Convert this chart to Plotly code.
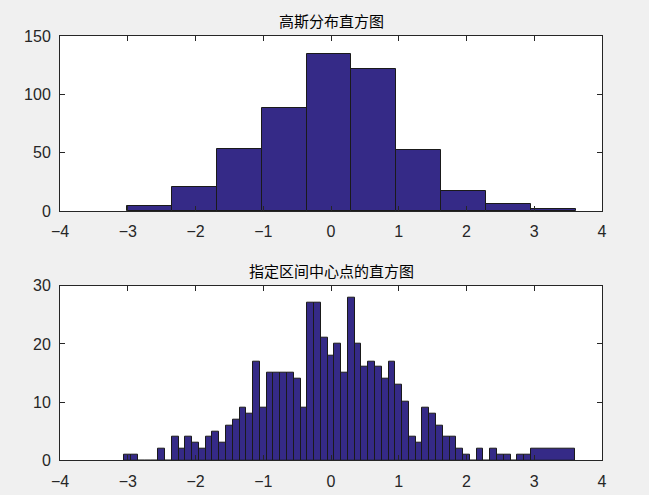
import numpy as np
import plotly.graph_objects as go

# top panel: 10 equal bins between data min and max
top_edges = [-3.01, -2.35, -1.69, -1.02, -0.36, 0.30, 0.96, 1.63, 2.29, 2.95, 3.61]
top_counts = [4, 21, 53, 88, 135, 122, 52, 17, 6, 2]

# bottom panel: bins centred on -3:0.1:3, last bar stretched to the data max
bot_centers = np.round(np.arange(-3.0, 3.05, 0.1), 1)
bot_last_edge = 3.6
bot_counts = [1, 1, 0, 0, 0, 2, 0, 4, 2, 4, 3, 2, 4, 5, 3, 6, 7, 9, 8, 17,
              9, 15, 15, 15, 15, 14, 9, 27, 27, 21, 18, 20, 15, 28, 20, 16, 17, 16, 14, 17,
              13, 10, 4, 3, 9, 8, 6, 4, 4, 2, 1, 0, 2, 0, 2, 1, 1, 0, 1, 1, 2]

x_ticks = [-4, -3, -2, -1, 0, 1, 2, 3, 4]

BAR_COLOR = "#352a87"
AX_COLOR = "#262626"
W, H = 649, 495

top_left = top_edges[:-1]
top_w = np.diff(top_edges)

bot_left = list(bot_centers - 0.05)
bot_w = [0.1] * (len(bot_centers) - 1) + [bot_last_edge - bot_left[-1]]

fig = go.Figure()
fig.add_trace(go.Bar(x=top_left, y=top_counts, width=top_w, offset=0,
                     marker=dict(color=BAR_COLOR, line=dict(color="#1a1a1a", width=1)),
                     xaxis="x", yaxis="y", showlegend=False))
fig.add_trace(go.Bar(x=bot_left, y=bot_counts, width=bot_w, offset=0,
                     marker=dict(color=BAR_COLOR, line=dict(color="#1a1a1a", width=1)),
                     xaxis="x2", yaxis="y2", showlegend=False))

x0, x1 = 60 / W, 602 / W
top_dom = [1 - 211 / H, 1 - 36 / H]
bot_dom = [1 - 460.3 / H, 1 - 285.7 / H]

axis_style = dict(showgrid=False, zeroline=False, showline=True, linecolor=AX_COLOR,
                  linewidth=1, mirror="ticks", ticks="inside", ticklen=5, automargin=False,
                  tickcolor=AX_COLOR, tickfont=dict(family="Liberation Sans", size=16, color=AX_COLOR))
xstyle = dict(axis_style, ticklabelstandoff=6)
ystyle = dict(axis_style, ticklabelstandoff=5)

title_font = dict(family="Noto Sans CJK SC", size=15, color="black")

fig.update_layout(
    width=W, height=H,
    margin=dict(l=0, r=0, t=0, b=0),
    paper_bgcolor="#f0f0f0", plot_bgcolor="white",
    bargap=0,
    xaxis=dict(domain=[x0, x1], range=[-4, 4], tickvals=x_ticks, anchor="y", **xstyle),
    yaxis=dict(domain=top_dom, range=[0, 150], dtick=50, anchor="x", **ystyle),
    xaxis2=dict(domain=[x0, x1], range=[-4, 4], tickvals=x_ticks, anchor="y2", **xstyle),
    yaxis2=dict(domain=bot_dom, range=[0, 30], dtick=10, anchor="x2", **ystyle),
    annotations=[
        dict(text="高斯分布直方图", x=(x0 + x1) / 2, y=top_dom[1], xref="paper", yref="paper",
             xanchor="center", yanchor="bottom", yshift=3, showarrow=False, font=title_font),
        dict(text="指定区间中心点的直方图", x=(x0 + x1) / 2, y=bot_dom[1], xref="paper", yref="paper",
             xanchor="center", yanchor="bottom", yshift=3, showarrow=False, font=title_font),
    ],
)

fig.write_html("out.html", config={"displayModeBar": False},
               post_script="document.body.style.margin='0';")
